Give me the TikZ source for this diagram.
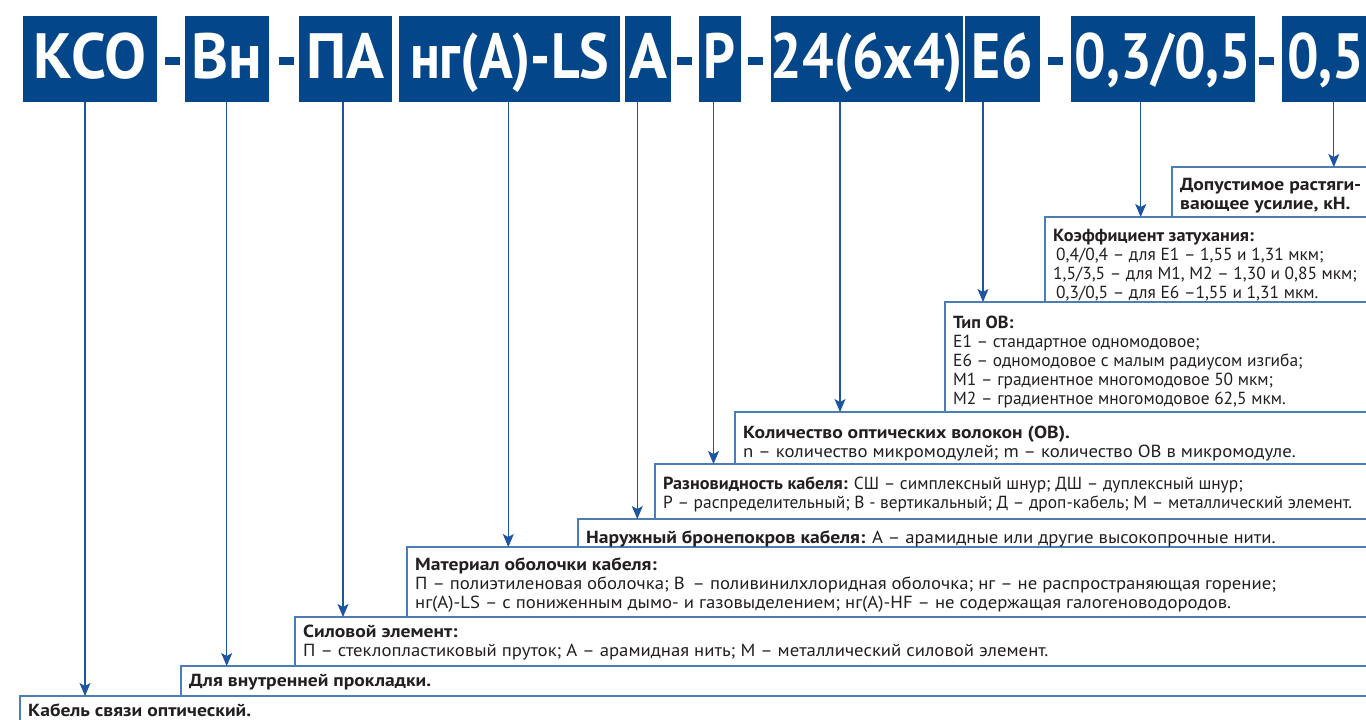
\documentclass[tikz,border=0pt]{standalone}
\usepackage{fontspec}
\setmainfont{PT Sans}
\newfontfamily\headfont{PT Sans}[FakeStretch=0.87]
\newfontfamily\headwide{PT Sans}[FakeStretch=0.98]
\newfontfamily\bodyfont{PT Sans}[FakeStretch=1.07, BoldFeatures={FakeStretch=1.12}]
\newfontfamily\bodynarrow{PT Sans}[FakeStretch=0.995, BoldFeatures={FakeStretch=1.04}]
\usetikzlibrary{arrows.meta}

\definecolor{hblue}{HTML}{03478A}
\definecolor{fline}{HTML}{4D7DB7}
\definecolor{arrowc}{HTML}{1E55A0}
\definecolor{txt}{HTML}{231F20}

\tikzset{
  hbox/.style={fill=hblue, text=white, inner sep=0pt, minimum height=86pt,
    text height=45pt, text depth=7pt,
    font=\headfont\bfseries\fontsize{64}{64}\selectfont},
  hwide/.style={hbox, font=\headwide\bfseries\fontsize{64}{64}\selectfont},
  dashbar/.style={fill=hblue, inner sep=0pt, minimum width=15pt, minimum height=8pt},
  frame/.style={draw=fline, line width=1.4pt},
  arr/.style={draw=arrowc, line width=1.1pt, -{Stealth[length=13pt,width=11pt,inset=3pt]}},
  desc/.style={anchor=north west, inner sep=0pt, align=left, text=txt,
    font=\bodyfont\fontsize{17.5}{19}\selectfont, execute at begin node={\strut}},
  descn/.style={desc, font=\bodynarrow\fontsize{17.5}{19}\selectfont},
}

\begin{document}
\begin{tikzpicture}[x=1pt,y=-1pt]
\useasboundingbox (0,0) rectangle (1366,720);

% code blocks of the designation
\node[hwide, minimum width=133.3pt] (hKSO) at (90.05,59)  {КСО};
\node[dashbar] (d1) at (172,61) {};
\node[hwide, minimum width=83.7pt]  (hVn)  at (226.65,59) {Вн};
\node[dashbar] (d2) at (286,61) {};
\node[hwide, minimum width=93.3pt]  (hPA)  at (345.65,59) {ПА};
\node[hbox, minimum width=220.6pt] (hNg)  at (509.6,59)  {нг(А)-LS};
\node[hwide, minimum width=46.3pt]  (hA)   at (648.15,59) {А};
\node[dashbar] (d3) at (684,61) {};
\node[hbox, minimum width=42.3pt]  (hR)   at (719.85,59) {Р};
\node[dashbar] (d4) at (755,61) {};
\node[hbox, minimum width=191.9pt] (hN)   at (866.95,59) {24(6x4)};
\node[hbox, minimum width=74.6pt]  (hE)   at (1002.3,59) {Е6};
\node[dashbar] (d5) at (1055.5,61) {};
\node[hbox, minimum width=184pt]   (hK)   at (1163,59)   {0,3/0,5};
\node[dashbar] (d6) at (1266.5,61) {};
\node[hbox, minimum width=88.5pt]  (hF)   at (1325.75,59) {0,5};

% corners of the description frames (left edge, top edge)
\coordinate (fKab) at (20,696);
\coordinate (fVn)  at (181,666);
\coordinate (fSil) at (295,617);
\coordinate (fMat) at (407,547);
\coordinate (fNar) at (578,519);
\coordinate (fRaz) at (655,464);
\coordinate (fKol) at (735,412);
\coordinate (fTip) at (945,302);
\coordinate (fKoe) at (1045,217);
\coordinate (fDop) at (1172,167);
\coordinate (edge) at (1372,0);
\coordinate (floor) at (0,726);

% frames: left edge down to the next frame, top edge out to the right
\draw[frame] (fKab |- floor) -- (fKab) -- (fKab -| edge);
\draw[frame] (fVn |- fKab)   -- (fVn)  -- (fVn -| edge);
\draw[frame] (fSil |- fVn)   -- (fSil) -- (fSil -| edge);
\draw[frame] (fMat |- fSil)  -- (fMat) -- (fMat -| edge);
\draw[frame] (fNar |- fMat)  -- (fNar) -- (fNar -| edge);
\draw[frame] (fRaz |- fNar)  -- (fRaz) -- (fRaz -| edge);
\draw[frame] (fKol |- fRaz)  -- (fKol) -- (fKol -| edge);
\draw[frame] (fTip |- fKol)  -- (fTip) -- (fTip -| edge);
\draw[frame] (fKoe |- fTip)  -- (fKoe) -- (fKoe -| edge);
\draw[frame] (fDop |- fKoe)  -- (fDop) -- (fDop -| edge);

% descriptions
\node[desc] (tKab) at ([shift={(8,7.2)}]fKab) {\textbf{Кабель связи оптический.}};
\node[desc] (tVn)  at ([shift={(8,7.2)}]fVn)  {\textbf{Для внутренней прокладки.}};
\node[desc] (tSil) at ([shift={(8,8)}]fSil) {\textbf{Силовой элемент:}\\
  П – стеклопластиковый пруток; А – арамидная нить; М – металлический силовой элемент.};
\node[desc] (tMat) at ([shift={(8,10.5)}]fMat) {\textbf{Материал оболочки кабеля:}\\
  П – полиэтиленовая оболочка; В\, – поливинилхлоридная оболочка; нг – не распространяющая горение;\\
  нг(А)-LS – с пониженным дымо- и газовыделением; нг(А)-HF – не содержащая галогеноводородов.};
\node[desc] (tNar) at ([shift={(8,11)}]fNar) {\textbf{Наружный бронепокров кабеля:} А – арамидные или другие высокопрочные нити.};
\node[descn] (tRaz) at ([shift={(8,13)}]fRaz) {\textbf{Разновидность кабеля:} СШ – симплексный шнур; ДШ – дуплексный шнур;\\
  Р – распределительный; В - вертикальный; Д – дроп-кабель; М – металлический элемент.};
\node[desc] (tKol) at ([shift={(8,14)}]fKol) {\textbf{Количество оптических волокон (ОВ).}\\
  n – количество микромодулей; m – количество ОВ в микромодуле.};
\node[descn] (tTip) at ([shift={(8,13.5)}]fTip) {\textbf{Тип ОВ:}\\
  Е1 – стандартное одномодовое;\\
  Е6 – одномодовое с малым радиусом изгиба;\\
  М1 – градиентное многомодовое 50 мкм;\\
  М2 – градиентное многомодовое 62,5 мкм.};
\node[descn] (tKoe) at ([shift={(8,12)}]fKoe) {\textbf{Коэффициент затухания:}\\
  \hspace*{3pt}0,4/0,4 – для Е1 – 1,55 и 1,31 мкм;\\
  1,5/3,5 – для М1, М2 – 1,30 и 0,85 мкм;\\
  \hspace*{3pt}0,3/0,5 – для Е6 –1,55 и 1,31 мкм.};
\node[desc] (tDop) at ([shift={(8,11)}]fDop) {\textbf{Допустимое растяги-}\\
  \textbf{вающее усилие, кН.}};

% x positions of the leader lines
\coordinate (aKSO) at (85,0);
\coordinate (aVn)  at (226.7,0);
\coordinate (aPA)  at (343,0);
\coordinate (aNg)  at (508.3,0);
\coordinate (aA)   at (637.3,0);
\coordinate (aR)   at (713.5,0);
\coordinate (aN)   at (840,0);
\coordinate (aE)   at (983,0);
\coordinate (aK)   at (1140.7,0);
\coordinate (aF)   at (1333.8,0);

% leaders from each code block to its description
\draw[arr] (hKSO.south -| aKSO) -- (aKSO |- fKab);
\draw[arr] (hVn.south -| aVn)   -- (aVn |- fVn);
\draw[arr] (hPA.south -| aPA)   -- (aPA |- fSil);
\draw[arr] (hNg.south -| aNg)   -- (aNg |- fMat);
\draw[arr] (hA.south -| aA)     -- (aA |- fNar);
\draw[arr] (hR.south -| aR)     -- (aR |- fRaz);
\draw[arr] (hN.south -| aN)     -- (aN |- fKol);
\draw[arr] (hE.south -| aE)     -- (aE |- fTip);
\draw[arr] (hK.south -| aK)     -- (aK |- fKoe);
\draw[arr] (hF.south -| aF)     -- (aF |- fDop);
\end{tikzpicture}
\end{document}
